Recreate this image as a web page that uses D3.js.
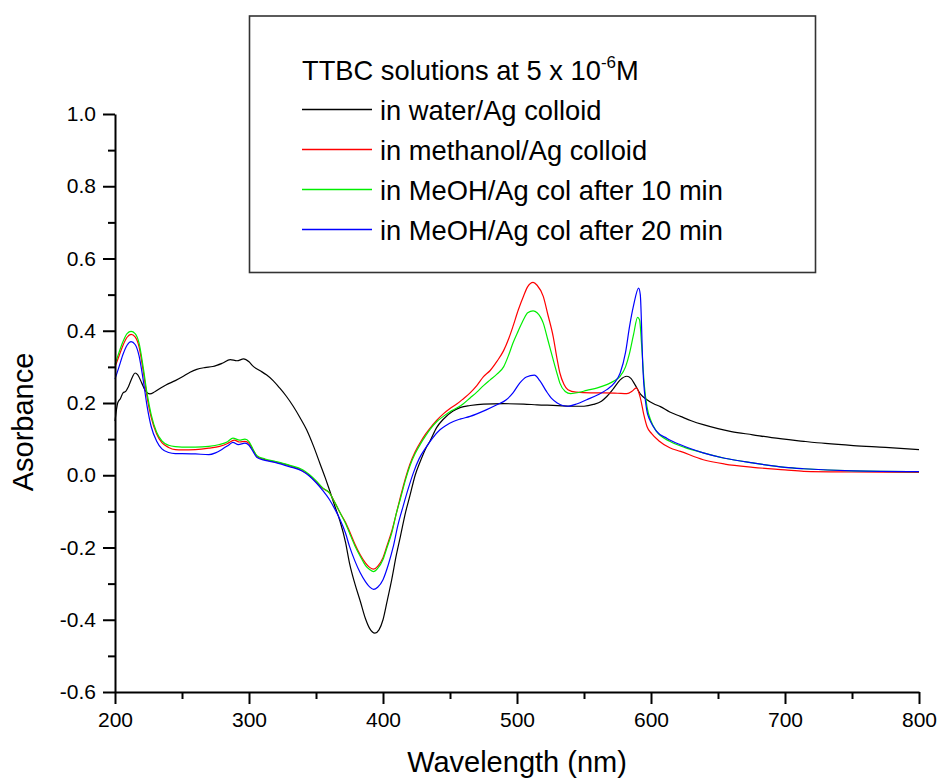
<!DOCTYPE html>
<html>
<head>
<meta charset="utf-8">
<script src="https://cdn.jsdelivr.net/npm/d3@7"></script>
<style>
  html, body { margin: 0; padding: 0; background: #fff; }
  svg { display: block; font-family: "Liberation Sans", Arial, sans-serif; }
</style>
</head>
<body>
<svg id="chart" width="942" height="779"></svg>
<script>
// UV-vis absorbance spectra, [wavelength nm, absorbance]
const water = [
  [200,0.150],[202,0.200],[204,0.212],[206,0.228],[208,0.232],[210,0.245],[213,0.272],[215,0.283],
  [217,0.278],[220,0.255],[223,0.232],[226,0.225],[230,0.232],[238,0.250],[245,0.262],[251,0.274],
  [256,0.285],[261,0.293],[267,0.298],[273,0.301],[280,0.310],[286,0.320],[291,0.317],[296,0.322],
  [300,0.314],[303,0.302],[308,0.290],[313,0.278],[318,0.262],[323,0.241],[328,0.218],[333,0.191],
  [338,0.160],[343,0.126],[348,0.082],[353,0.032],[357,-0.008],[360,-0.040],[364,-0.085],[368,-0.128],
  [372,-0.185],[375,-0.243],[379,-0.300],[383,-0.348],[387,-0.398],[390,-0.424],[394,-0.437],
  [397,-0.428],[400,-0.400],[403,-0.350],[406.5,-0.289],[410,-0.220],[413,-0.169],[417,-0.100],
  [420,-0.058],[424,0.000],[428,0.040],[432,0.075],[435,0.094],[440,0.132],[445,0.155],[452,0.177],
  [458,0.188],[465,0.193],[475,0.197],[490,0.198],[505,0.197],[515,0.195],[530,0.193],[540,0.191],
  [550,0.191],[557,0.196],[563,0.205],[567,0.218],[572,0.240],[577,0.264],[582,0.274],[585,0.268],
  [588,0.251],[592,0.225],[597,0.209],[602,0.198],[607,0.190],[614,0.175],[622,0.163],[630,0.151],
  [639,0.140],[650,0.129],[660,0.121],[676,0.112],[690,0.104],[714,0.094],[730,0.088],[751,0.082],
  [775,0.077],[800,0.071]
];

const methanol = [
  [200,0.300],[203,0.330],[206,0.360],[209,0.382],[212,0.390],[215,0.383],[218,0.355],[221,0.290],
  [224,0.215],[227,0.160],[231,0.115],[235,0.090],[240,0.077],[245,0.071],[250,0.070],[260,0.071],
  [270,0.075],[278,0.080],[284,0.088],[289,0.097],[293,0.092],[297,0.094],[300,0.088],[303,0.070],
  [306,0.052],[312,0.043],[320,0.036],[330,0.027],[340,0.012],[345,0.000],[350,-0.018],[355,-0.036],
  [360,-0.049],[364,-0.075],[368,-0.104],[372,-0.130],[375,-0.155],[379,-0.190],[383,-0.220],
  [387,-0.243],[390,-0.255],[393,-0.260],[396,-0.252],[400,-0.228],[403,-0.195],[406.5,-0.155],
  [410,-0.105],[413,-0.060],[417,-0.005],[420,0.030],[424,0.065],[428,0.092],[432,0.115],[435,0.130],
  [440,0.152],[445,0.170],[450,0.185],[455,0.197],[460,0.212],[465,0.228],[470,0.248],[475,0.273],
  [480,0.290],[485,0.315],[490,0.345],[494,0.380],[497,0.412],[501,0.458],[505,0.497],[508,0.522],
  [512,0.534],[515,0.526],[519.6,0.495],[523,0.445],[527,0.384],[530,0.320],[532,0.283],[535,0.252],
  [538,0.237],[544,0.230],[555,0.228],[565,0.228],[575,0.227],[582,0.226],[586,0.233],[589,0.242],
  [592,0.215],[594.5,0.170],[597,0.135],[600.5,0.115],[606,0.095],[614,0.076],[622,0.066],
  [639,0.043],[655,0.031],[676,0.022],[700,0.015],[714,0.011],[750,0.009],[800,0.008]
];

const meoh10 = [
  [200,0.306],[203,0.340],[206,0.370],[209,0.392],[212,0.398],[215,0.392],[218,0.365],[221,0.300],
  [224,0.225],[227,0.168],[231,0.120],[235,0.095],[240,0.083],[245,0.079],[250,0.078],[260,0.078],
  [270,0.080],[278,0.085],[284,0.093],[288,0.103],[293,0.097],[297,0.100],[300,0.093],[303,0.072],
  [306,0.054],[312,0.045],[320,0.038],[330,0.028],[340,0.015],[345,0.002],[350,-0.015],[355,-0.035],
  [360,-0.049],[364,-0.075],[368,-0.104],[372,-0.133],[375,-0.160],[379,-0.195],[383,-0.224],
  [387,-0.250],[390,-0.261],[393,-0.267],[396,-0.258],[400,-0.233],[403,-0.200],[406.5,-0.160],
  [410,-0.105],[413,-0.065],[417,-0.010],[420,0.025],[424,0.060],[428,0.087],[432,0.110],[435,0.126],
  [440,0.148],[445,0.163],[450,0.176],[455,0.186],[460,0.198],[465,0.214],[470,0.230],[475,0.248],
  [480,0.264],[485,0.280],[490,0.300],[494,0.335],[497,0.366],[501,0.400],[505,0.432],[508,0.450],
  [512,0.455],[515,0.450],[519.6,0.421],[523,0.375],[527,0.320],[530,0.280],[532,0.255],[536,0.232],
  [540,0.226],[546,0.229],[552,0.235],[560,0.242],[567,0.251],[573,0.262],[577,0.274],[581,0.300],
  [584,0.338],[587,0.390],[590,0.437],[591.5,0.430],[593,0.360],[595,0.250],[597,0.190],[600,0.150],
  [604,0.122],[614,0.094],[625,0.077],[639,0.062],[655,0.047],[676,0.034],[700,0.022],[714,0.018],
  [751,0.012],[800,0.010]
];

const meoh20 = [
  [200,0.266],[203,0.300],[206,0.335],[209,0.360],[212,0.370],[215,0.362],[218,0.330],[221,0.265],
  [224,0.190],[227,0.135],[231,0.095],[235,0.073],[240,0.063],[245,0.060],[250,0.060],[260,0.059],
  [270,0.057],[275,0.062],[280,0.072],[285,0.084],[288,0.091],[292,0.085],[297,0.089],[300,0.083],
  [303,0.066],[306,0.049],[312,0.041],[320,0.035],[330,0.024],[340,0.011],[345,-0.002],[350,-0.020],
  [355,-0.042],[360,-0.067],[364,-0.093],[368,-0.123],[372,-0.160],[375,-0.197],[379,-0.237],
  [383,-0.270],[387,-0.295],[390,-0.309],[393,-0.316],[396,-0.310],[400,-0.289],[404,-0.247],
  [407.7,-0.197],[411,-0.140],[415,-0.086],[419,-0.035],[422.6,0.006],[427,0.046],[432.6,0.080],
  [437,0.103],[442.5,0.126],[447,0.138],[452.5,0.149],[458,0.156],[465,0.163],[470,0.170],[477,0.181],
  [485,0.195],[492,0.209],[497,0.228],[502,0.255],[507,0.272],[513,0.277],[517,0.262],[522,0.232],
  [526,0.212],[530,0.200],[534,0.193],[538,0.191],[545,0.198],[552,0.209],[560,0.222],[567,0.237],
  [573,0.257],[577,0.283],[581,0.340],[584,0.412],[587,0.470],[590.8,0.518],[592,0.500],[594,0.292],
  [596.8,0.181],[599,0.154],[601.7,0.135],[604,0.122],[612,0.102],[621.6,0.085],[639,0.062],
  [655,0.047],[676,0.034],[700,0.022],[714,0.018],[751,0.012],[800,0.010]
];

const seriesNames = [
  "in water/Ag colloid",
  "in methanol/Ag colloid",
  "in MeOH/Ag col after 10 min",
  "in MeOH/Ag col after 20 min"
];
const seriesColors = ["#000000", "#ff0000", "#00ee00", "#0000ff"];
const seriesData = [water, methanol, meoh10, meoh20];

const xTicks = [200, 300, 400, 500, 600, 700, 800];
const xMinorTicks = [250, 350, 450, 550, 650, 750];
const yTicks = [-0.6, -0.4, -0.2, 0.0, 0.2, 0.4, 0.6, 0.8, 1.0];
const yMinorTicks = [-0.5, -0.3, -0.1, 0.1, 0.3, 0.5, 0.7, 0.9];

const xTitle = "Wavelength (nm)";
const yTitle = "Asorbance";

const svg = d3.select("#chart");
const plot = { left: 115, right: 919, top: 114, bottom: 692 };

const x = d3.scaleLinear().domain([200, 800]).range([plot.left, plot.right]);
const y = d3.scaleLinear().domain([-0.6, 1.0]).range([plot.bottom, plot.top]);

// curves
const line = d3.line()
  .x(d => x(d[0]))
  .y(d => y(d[1]))
  .curve(d3.curveMonotoneX);

const curves = svg.append("g");
seriesData.forEach((data, i) => {
  curves.append("path")
    .datum(data)
    .attr("fill", "none")
    .attr("stroke", seriesColors[i])
    .attr("stroke-width", 1.2)
    .attr("stroke-linejoin", "round")
    .attr("d", line);
});

// axes
function styleAxis(g) {
  g.selectAll(".domain").attr("stroke", "#000").attr("stroke-width", 2);
  g.selectAll(".tick line").attr("stroke", "#000").attr("stroke-width", 2);
  g.selectAll(".tick text").attr("fill", "#000").attr("font-size", 21)
    .attr("font-family", "\"Liberation Sans\", Arial, sans-serif");
}

const xAxisMinor = svg.append("g")
  .attr("transform", `translate(0,${plot.bottom})`)
  .call(d3.axisBottom(x).tickValues(xMinorTicks).tickSize(7).tickSizeOuter(0).tickFormat(""));
xAxisMinor.select(".domain").remove();
styleAxis(xAxisMinor);

const xAxis = svg.append("g")
  .attr("transform", `translate(0,${plot.bottom})`)
  .call(d3.axisBottom(x).tickValues(xTicks).tickSize(12).tickSizeOuter(0).tickPadding(8)
    .tickFormat(d => String(d)));
styleAxis(xAxis);

const yAxisMinor = svg.append("g")
  .attr("transform", `translate(${plot.left},0)`)
  .call(d3.axisLeft(y).tickValues(yMinorTicks).tickSize(7).tickSizeOuter(0).tickFormat(""));
yAxisMinor.select(".domain").remove();
styleAxis(yAxisMinor);

const yAxis = svg.append("g")
  .attr("transform", `translate(${plot.left},0)`)
  .call(d3.axisLeft(y).tickValues(yTicks).tickSize(12).tickSizeOuter(0).tickPadding(7)
    .tickFormat(d => d.toFixed(1)));
styleAxis(yAxis);

// axis titles
svg.append("text")
  .attr("x", (plot.left + plot.right) / 2)
  .attr("y", 772)
  .attr("text-anchor", "middle")
  .attr("font-size", 29)
  .text(xTitle);

svg.append("text")
  .attr("transform", `translate(33,${(plot.top + plot.bottom) / 2 + 19}) rotate(-90)`)
  .attr("text-anchor", "middle")
  .attr("font-size", 29)
  .text(yTitle);

// legend
const legend = svg.append("g");
legend.append("rect")
  .attr("x", 249.5).attr("y", 16)
  .attr("width", 566).attr("height", 256.5)
  .attr("fill", "#fff")
  .attr("stroke", "#333")
  .attr("stroke-width", 1.6);

const title = legend.append("text")
  .attr("x", 302).attr("y", 80)
  .attr("font-size", 27.3);
title.append("tspan").text("TTBC solutions at 5 x 10");
title.append("tspan").attr("font-size", 17).attr("dy", -12).text("-6");
title.append("tspan").attr("dy", 12).text("M");

seriesNames.forEach((name, i) => {
  const ly = 109.5 + i * 40;
  legend.append("line")
    .attr("x1", 302).attr("x2", 372)
    .attr("y1", ly).attr("y2", ly)
    .attr("stroke", seriesColors[i])
    .attr("stroke-width", 1.5);
  legend.append("text")
    .attr("x", 380).attr("y", ly + 10)
    .attr("font-size", 27.3)
    .text(name);
});
</script>
</body>
</html>
